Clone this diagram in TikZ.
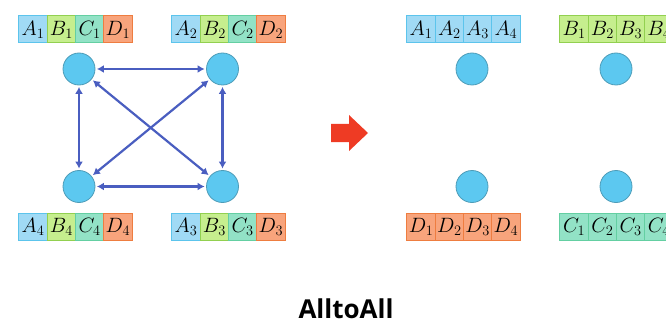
\documentclass[tikz,border=0pt]{standalone}
\usepackage{fontspec}
\newfontfamily\titlefont{Open Sans}
\usetikzlibrary{arrows.meta}
\definecolor{aFill}{HTML}{A0DAF5}\definecolor{aDraw}{HTML}{5CC4EC}
\definecolor{bFill}{HTML}{C6EE8E}\definecolor{bDraw}{HTML}{92D050}
\definecolor{cFill}{HTML}{92E2C6}\definecolor{cDraw}{HTML}{64CFA2}
\definecolor{dFill}{HTML}{F8A47C}\definecolor{dDraw}{HTML}{EE7D40}
\definecolor{nodeFill}{HTML}{5CC8F0}\definecolor{nodeDraw}{HTML}{4D9CB8}
\definecolor{arrowCol}{HTML}{4A5EC0}
\definecolor{redArrow}{HTML}{EE3B24}
\tikzset{
  cell/.style={draw, line width=1pt, minimum width=28.25pt, minimum height=27pt, inner sep=0pt, font=\fontsize{20}{20}\selectfont},
  acell/.style={cell, fill=aFill, draw=aDraw},
  bcell/.style={cell, fill=bFill, draw=bDraw},
  ccell/.style={cell, fill=cFill, draw=cDraw},
  dcell/.style={cell, fill=dFill, draw=dDraw},
  gpu/.style={circle, fill=nodeFill, draw=nodeDraw, line width=0.8pt, minimum size=32pt, inner sep=0pt},
  link/.style={draw=arrowCol, line width=2.2pt, {Latex[length=7pt,width=8pt]}-{Latex[length=7pt,width=8pt]}, shorten <=1.5pt, shorten >=1.5pt}
}
\begin{document}
\begin{tikzpicture}[x=1pt,y=-1pt]
\useasboundingbox (0,0) rectangle (666,326);
\clip (0,0) rectangle (666,326);
% left group bars
\node[acell] (l1a) at (33.1,29.5) {$A_1$};
\node[bcell] (l1b) at (61.4,29.5) {$B_1$};
\node[ccell] (l1c) at (89.6,29.5) {$C_1$};
\node[dcell] (l1d) at (117.9,29.5) {$D_1$};
\node[acell] (l2a) at (186.1,29.5) {$A_2$};
\node[bcell] (l2b) at (214.4,29.5) {$B_2$};
\node[ccell] (l2c) at (242.6,29.5) {$C_2$};
\node[dcell] (l2d) at (270.9,29.5) {$D_2$};
\node[acell] (l4a) at (33.1,227) {$A_4$};
\node[bcell] (l4b) at (61.4,227) {$B_4$};
\node[ccell] (l4c) at (89.6,227) {$C_4$};
\node[dcell] (l4d) at (117.9,227) {$D_4$};
\node[acell] (l3a) at (186.1,227) {$A_3$};
\node[bcell] (l3b) at (214.4,227) {$B_3$};
\node[ccell] (l3c) at (242.6,227) {$C_3$};
\node[dcell] (l3d) at (270.9,227) {$D_3$};
% left nodes
\node[gpu] (g1) at (79,69) {};
\node[gpu] (g2) at (222.5,69) {};
\node[gpu] (g4) at (79,186.5) {};
\node[gpu] (g3) at (222.5,186.5) {};
\draw[link] (g1) -- (g2);
\draw[link] (g4) -- (g3);
\draw[link] (g1) -- (g4);
\draw[link] (g2) -- (g3);
\draw[link] (g1) -- (g3);
\draw[link] (g2) -- (g4);
% red arrow
\fill[redArrow] (331,124) -- (349,124) -- (349,115) -- (368,133) -- (349,151) -- (349,142) -- (331,142) -- cycle;
% right group bars
\node[acell] (r1a) at (421.1,29.5) {$A_1$};
\node[acell] (r1b) at (449.4,29.5) {$A_2$};
\node[acell] (r1c) at (477.6,29.5) {$A_3$};
\node[acell] (r1d) at (505.9,29.5) {$A_4$};
\node[bcell] (r2a) at (574.1,29.5) {$B_1$};
\node[bcell] (r2b) at (602.4,29.5) {$B_2$};
\node[bcell] (r2c) at (630.6,29.5) {$B_3$};
\node[bcell] (r2d) at (658.9,29.5) {$B_4$};
\node[dcell] (r4a) at (421.1,227) {$D_1$};
\node[dcell] (r4b) at (449.4,227) {$D_2$};
\node[dcell] (r4c) at (477.6,227) {$D_3$};
\node[dcell] (r4d) at (505.9,227) {$D_4$};
\node[ccell] (r3a) at (574.1,227) {$C_1$};
\node[ccell] (r3b) at (602.4,227) {$C_2$};
\node[ccell] (r3c) at (630.6,227) {$C_3$};
\node[ccell] (r3d) at (658.9,227) {$C_4$};
% right nodes
\node[gpu] (h1) at (472,69) {};
\node[gpu] (h2) at (616,69) {};
\node[gpu] (h4) at (472,186.5) {};
\node[gpu] (h3) at (616,186.5) {};
% title
\node[font=\titlefont\bfseries\fontsize{26}{26}\selectfont, anchor=base] (title) at (346,318) {AlltoAll};
\end{tikzpicture}
\end{document}
